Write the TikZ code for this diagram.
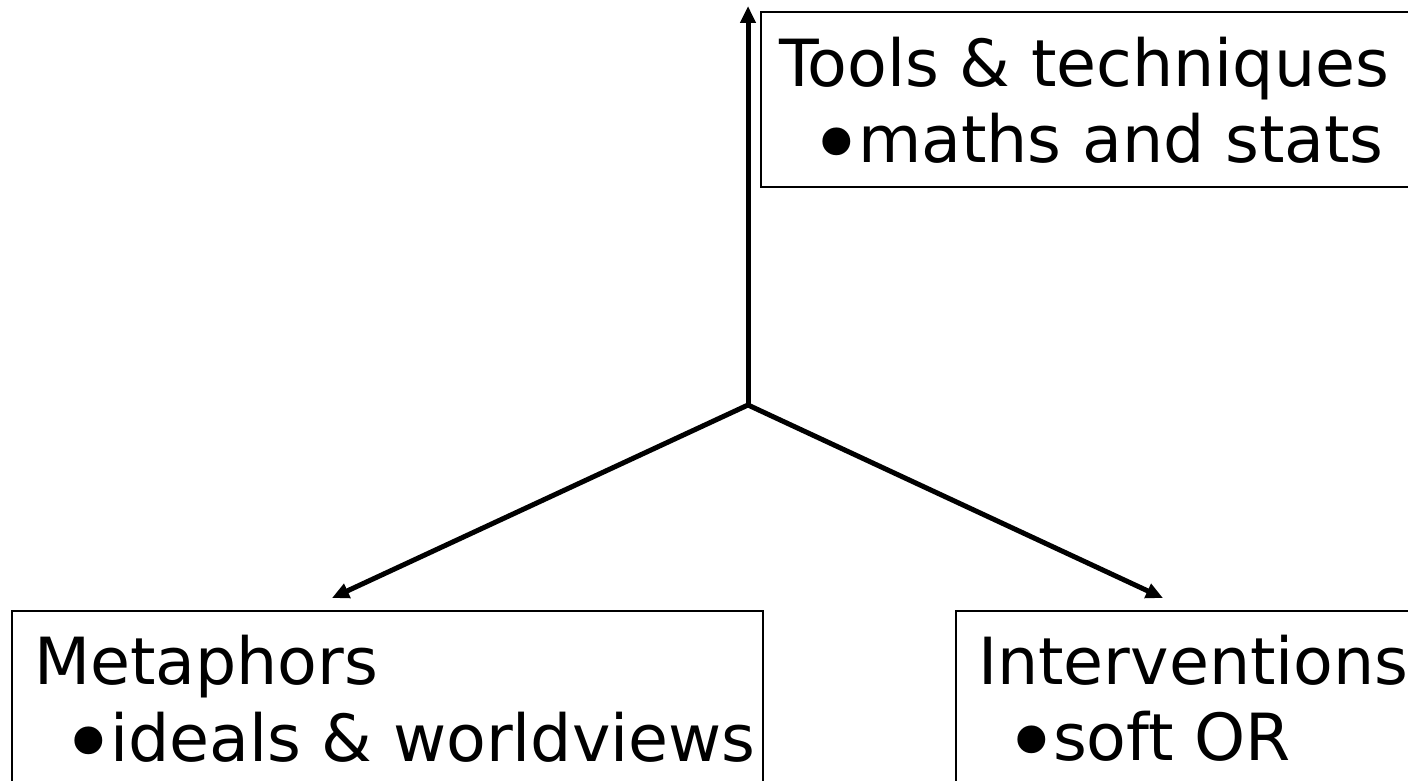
\documentclass[tikz,border=0pt]{standalone}
\usepackage{fontspec}
\setmainfont{DejaVu Sans}
\usetikzlibrary{arrows.meta}

% a large round bullet in a fixed-width slot before the item text
\newcommand\bulletmark{\makebox[43pt][c]{\raisebox{-15pt}[0pt][0pt]{\fontsize{96}{96}\selectfont •}}}

\tikzset{
  panel/.style={draw=black, line width=2pt, fill=none},
  label/.style={anchor=base west, inner sep=0pt, outer sep=0pt,
                font=\fontsize{65}{76}\selectfont},
  branch/.style={line width=5pt, -{Triangle[length=17pt,width=15pt]}}
}

\begin{document}
\begin{tikzpicture}[x=1pt,y=-1pt]
  \useasboundingbox (0,0) rectangle (1408,781);
  \clip (0,0) rectangle (1408,781);

  % three framed panels (two run off the right/bottom edge)
  \draw[panel] (761,12.5) rectangle (1430,187);
  \draw[panel] (12,611) rectangle (763,800);
  \draw[panel] (956,611) rectangle (1430,800);

  % panel texts
  \node[label] (tools)  at (779,87)   {Tools \& techniques};
  \node[label] (maths)  at (815,163)  {\bulletmark maths and stats};
  \node[label] (meta)   at (34,684)   {Metaphors};
  \node[label] (ideals) at (67,761)   {\bulletmark ideals \& worldviews};
  \node[label] (interv) at (978,684)  {Interventions};
  \node[label] (soft)   at (1010,760) {\bulletmark soft OR};

  % branching arrows from a common hub
  \coordinate (hub)   at (748,405);
  \coordinate (upend) at (748,6);
  \coordinate (lfend) at (332,598);
  \coordinate (rtend) at (1163,598);

  \draw[branch] (hub) -- (upend);
  \draw[branch] (hub) -- (lfend);
  \draw[branch] (hub) -- (rtend);
\end{tikzpicture}
\end{document}
